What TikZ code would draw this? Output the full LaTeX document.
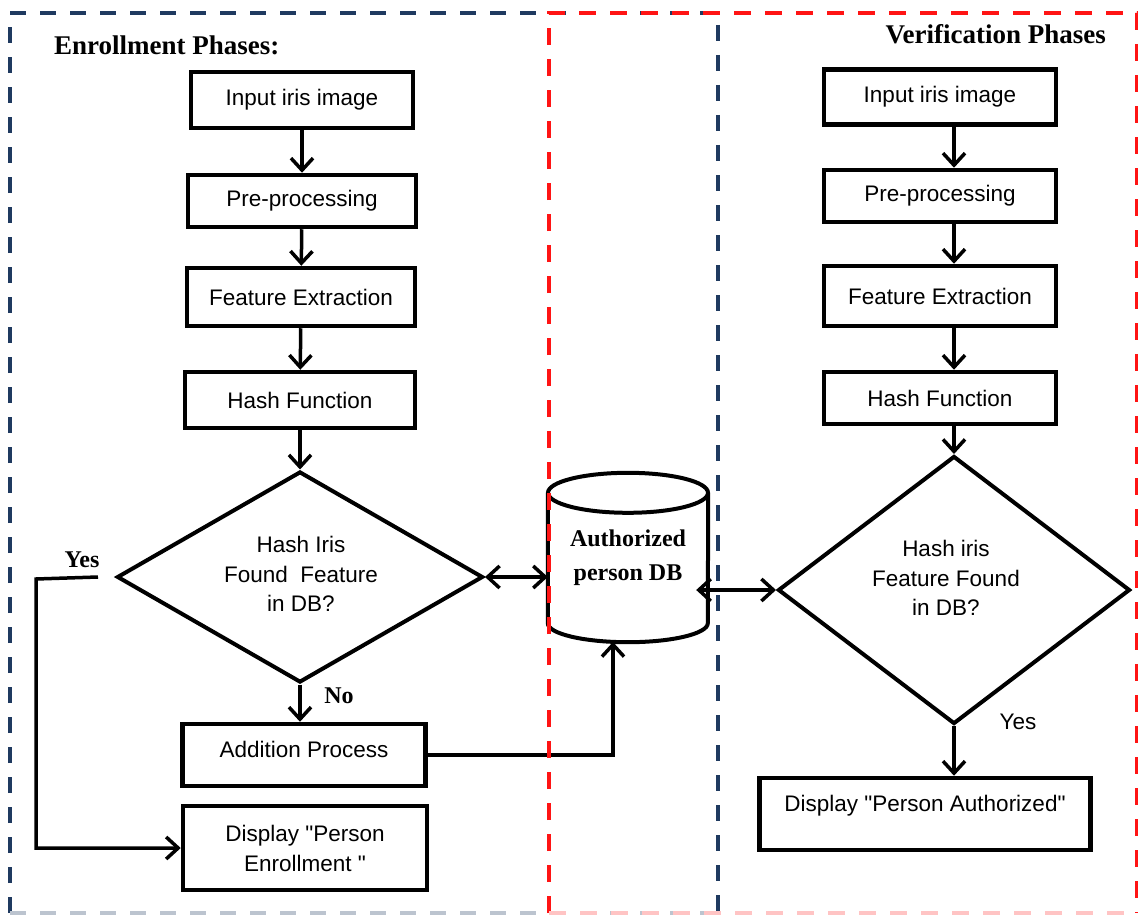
\documentclass[tikz,border=0pt]{standalone}
\usepackage{fontspec}
\setmainfont{Liberation Serif}
\setsansfont{Liberation Sans}
\usetikzlibrary{arrows.meta,shapes.geometric}
\definecolor{navy}{HTML}{1F3A60}
\definecolor{dashred}{HTML}{FF1414}
\begin{document}
\begin{tikzpicture}[x=1pt,y=-1pt,
  procbox/.style={draw, line width=4.5pt, rectangle, inner sep=0pt, align=center,
    font=\sffamily\fontsize{22.5}{30}\selectfont},
  decision/.style={draw, diamond, line width=4pt, inner sep=0pt, align=center,
    font=\sffamily\fontsize{22.5}{29.5}\selectfont},
  dtext/.style={inner sep=0pt, align=center, font=\sffamily\fontsize{22.5}{29.5}\selectfont},
  flow/.style={line width=3.5pt, -{Straight Barb[length=12pt,width=22pt]}},
  biflow/.style={line width=3.5pt, {Straight Barb[length=12pt,width=22pt]}-{Straight Barb[length=12pt,width=22pt]}},
  phase/.style={font=\bfseries\fontsize{27}{30}\selectfont, inner sep=0pt},
  serifbold/.style={font=\bfseries\fontsize{24}{34}\selectfont, inner sep=0pt, align=center},
  sanslabel/.style={font=\sffamily\fontsize{22.5}{26}\selectfont, inner sep=0pt},
  bluebox/.style={draw=navy, line width=3.5pt, dash pattern=on 16pt off 14pt},
  redbox/.style={draw=dashred, line width=3.5pt, dash pattern=on 17pt off 14pt}
]
\useasboundingbox (0,0) rectangle (1138,915);

% phase frames
\draw[bluebox] (10,913) -- (10,13) -- (718,13) -- (718,913);
\draw[bluebox, draw=navy!30] (10,913) -- (718,913);

% titles
\node[phase, anchor=base west] (t1) at (54,55) {Enrollment Phases:};
\node[phase, anchor=base east] (t2) at (1106,44) {Verification Phases};

% enrollment column
\node[procbox, minimum width=222pt, minimum height=56pt] (in1) at (302,100) {Input iris image};
\node[procbox, minimum width=228pt, minimum height=52pt] (pre1) at (302,201) {Pre-processing};
\node[procbox, minimum width=228pt, minimum height=58pt] (fe1) at (301,297) {Feature Extraction};
\node[procbox, minimum width=230pt, minimum height=56pt] (hf1) at (300,400) {Hash Function};
\node[decision, minimum width=366pt, minimum height=211pt] (d1) at (300,577) {};
\node[dtext] (d1text) at (301,574) {Hash Iris\\Found\ \ Feature\\in DB?};
\node[procbox, minimum width=243pt, minimum height=62pt, text height=16pt, text depth=12pt] (add) at (304,755) {Addition Process};
\node[procbox, minimum width=244pt, minimum height=84pt] (disp1) at (305,848) {Display \textquotedbl Person\\Enrollment \textquotedbl};

% database
\node[serifbold, minimum width=160pt, minimum height=130pt] (db) at (628,558) {Authorized\\person DB};
\draw[line width=4pt] (db.north) ellipse [x radius=80pt, y radius=20pt];
\draw[line width=4pt] (db.north west) -- (db.south west)
  arc [start angle=180, end angle=360, x radius=80pt, y radius=19pt] -- (db.north east);
\coordinate (dbbot) at (613,642);

% verification column
\node[procbox, minimum width=232pt, minimum height=55pt] (in2) at (940,97) {Input iris image};
\node[procbox, minimum width=232pt, minimum height=52pt] (pre2) at (940,196) {Pre-processing};
\node[procbox, minimum width=232pt, minimum height=60pt] (fe2) at (940,296) {Feature Extraction};
\node[procbox, minimum width=232pt, minimum height=52pt] (hf2) at (940,398) {Hash Function};
\node[decision, minimum width=352pt, minimum height=268pt] (d2) at (954,590) {};
\node[dtext] (d2text) at (946,578) {Hash iris\\Feature Found\\in DB?};
\node[procbox, minimum width=331pt, minimum height=72pt, text height=16pt, text depth=22pt] (disp2) at (925,814) {Display \textquotedbl Person Authorized\textquotedbl};

% labels
\node[serifbold] (yes1) at (82,560) {Yes};
\node[serifbold] (no1) at (339,696) {No};
\node[sanslabel] (yes2) at (1018,722) {Yes};

% enrollment connectors
\draw[flow] (in1) -- (pre1);
\draw[flow] (pre1) -- (fe1);
\draw[flow] (fe1) -- (hf1);
\draw[flow] (hf1.south) -- (d1.north);
\draw[flow] (d1.south) -- (d1.south |- add.north);
\coordinate (yesstart) at ([xshift=-17pt]d1.west);
\draw[flow] (yesstart) -- ++(-62,2) |- (disp1.west);
\draw[biflow] (d1.east) -- (d1.east -| db.west);
\draw[flow] (add.east) -| (dbbot);

% verification connectors
\draw[flow] (in2.south -| d2) -- (pre2.north -| d2);
\draw[flow] (pre2.south -| d2) -- (fe2.north -| d2);
\draw[flow] (fe2.south -| d2) -- (hf2.north -| d2);
\draw[flow] (hf2.south -| d2) -- (d2.north);
\draw[flow] (d2.south) -- (d2.south |- disp2.north);
\path (d2.west -| db.east) ++(-12,0) coordinate (dbr);
\draw[biflow] (dbr) -- (d2.west);

% red frame on top
\draw[redbox] (549,913) -- (549,13) -- (1137,13) -- (1137,913);
\draw[redbox, draw=dashred!25] (549,913) -- (1137,913);
\end{tikzpicture}
\end{document}
